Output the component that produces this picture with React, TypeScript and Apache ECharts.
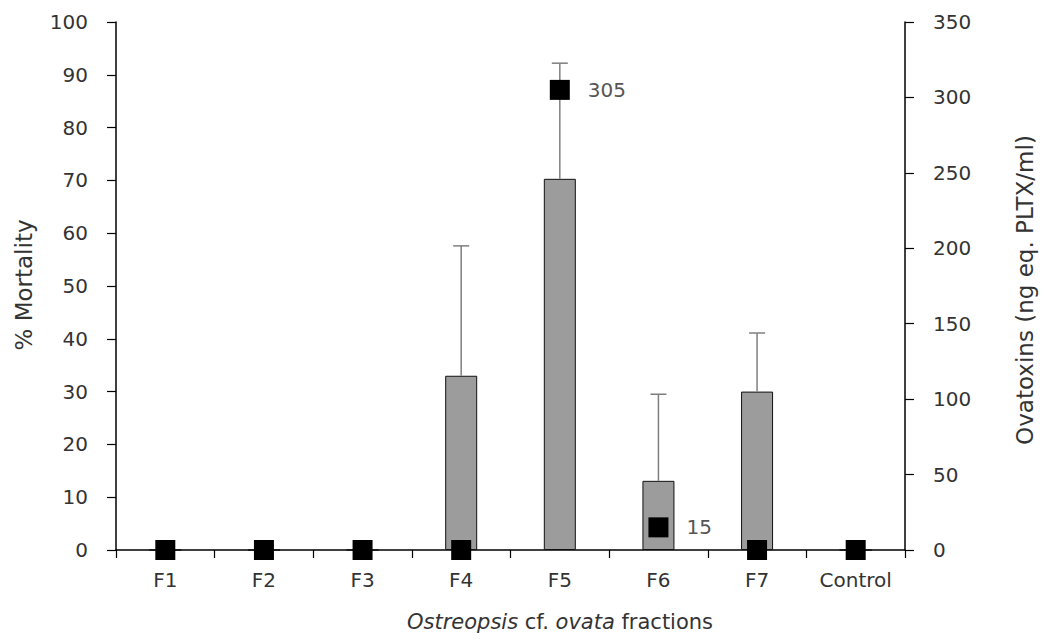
import React, { useEffect, useRef } from "react";
import * as echarts from "echarts";

const categories = ["F1", "F2", "F3", "F4", "F5", "F6", "F7", "Control"];
const mortality = [0, 0, 0, 33, 70.3, 13.1, 30, 0];
const mortalityErrTop = [null, null, null, 57.6, 92.2, 29.5, 41.1, null];
const ovatoxins = [0, 0, 0, 0, 305, 15, 0, 0];
const ovatoxinLabels = ["", "", "", "", "305", "15", "", ""];
const leftTicks = { min: 0, max: 100, interval: 10 };
const rightTicks = { min: 0, max: 350, interval: 50 };

const FONT = "'DejaVu Sans', 'Open Sans', sans-serif";
const FS = 20;
const TFS = 23;
const TXT = "#333333";

export default function App() {
  const ref = useRef<HTMLDivElement>(null);
  useEffect(() => {
    if (!ref.current) return;
    const chart = echarts.init(ref.current, null, { renderer: "svg" });
    const errData = categories
      .map((c, i) => [i, mortality[i], mortalityErrTop[i]])
      .filter((d) => d[2] !== null);
    chart.setOption({
      animation: false,
      backgroundColor: "#ffffff",
      grid: { left: 116, right: 143, top: 22, bottom: 92 },
      xAxis: {
        type: "category",
        data: categories,
        boundaryGap: true,
        axisLine: { lineStyle: { color: "#000", width: 1.5 } },
        axisTick: { show: true, length: 8, lineStyle: { color: "#000", width: 1.2 } },
        axisLabel: { color: TXT, fontFamily: FONT, fontSize: FS, margin: 20 },
      },
      yAxis: [
        {
          type: "value",
          min: leftTicks.min,
          max: leftTicks.max,
          interval: leftTicks.interval,
          splitLine: { show: false },
          axisLine: { show: true, lineStyle: { color: "#000", width: 1.5 } },
          axisTick: { show: true, length: 9, lineStyle: { color: "#000", width: 1.2 } },
          axisLabel: { color: TXT, fontFamily: FONT, fontSize: FS, margin: 28 },
        },
        {
          type: "value",
          position: "right",
          min: rightTicks.min,
          max: rightTicks.max,
          interval: rightTicks.interval,
          splitLine: { show: false },
          axisLine: { show: true, lineStyle: { color: "#000", width: 1.5 } },
          axisTick: { show: true, length: 9, lineStyle: { color: "#000", width: 1.2 } },
          axisLabel: { color: TXT, fontFamily: FONT, fontSize: FS, margin: 28 },
        },
      ],
      graphic: [
        {
          type: "text",
          x: 24,
          y: 285,
          rotation: Math.PI / 2,
          style: {
            text: "% Mortality",
            fill: TXT,
            fontFamily: FONT,
            fontSize: TFS,
            align: "center",
            verticalAlign: "middle",
          },
        },
        {
          type: "text",
          x: 1025,
          y: 290,
          rotation: Math.PI / 2,
          style: {
            text: "Ovatoxins (ng eq. PLTX/ml)",
            fill: TXT,
            fontFamily: FONT,
            fontSize: TFS,
            align: "center",
            verticalAlign: "middle",
          },
        },
        {
          type: "text",
          x: 560,
          y: 622,
          style: {
            text: "{i|Ostreopsis} {n|cf.} {i|ovata} {n|fractions}",
            fill: TXT,
            fontFamily: FONT,
            fontSize: 21,
            align: "center",
            verticalAlign: "middle",
            rich: {
              i: { fontStyle: "italic", fontFamily: FONT, fontSize: 21, fill: TXT },
              n: { fontFamily: FONT, fontSize: 21, fill: TXT },
            },
          },
        },
      ],
      series: [
        {
          type: "bar",
          yAxisIndex: 0,
          data: mortality,
          barWidth: 32,
          itemStyle: { color: "#9c9c9c", borderColor: "#111", borderWidth: 1 },
          z: 2,
        },
        {
          type: "custom",
          yAxisIndex: 0,
          data: errData,
          z: 3,
          renderItem: (params: any, api: any) => {
            const x = api.value(0);
            const base = api.coord([x, api.value(1)]);
            const top = api.coord([x, api.value(2)]);
            const style = { stroke: "#7f7f7f", lineWidth: 1.5 };
            return {
              type: "group",
              children: [
                { type: "line", shape: { x1: base[0], y1: base[1], x2: top[0], y2: top[1] }, style },
                { type: "line", shape: { x1: top[0] - 8, y1: top[1], x2: top[0] + 8, y2: top[1] }, style },
              ],
            };
          },
        },
        {
          type: "scatter",
          yAxisIndex: 1,
          symbol: "rect",
          symbolSize: 20,
          z: 5,
          itemStyle: { color: "#000", opacity: 1 },
          data: ovatoxins.map((v, i) => ({
            value: v,
            label: {
              show: ovatoxinLabels[i] !== "",
              formatter: ovatoxinLabels[i],
              position: "right",
              distance: 18,
              color: "#555",
              fontFamily: FONT,
              fontSize: FS,
            },
          })),
        },
      ],
    });
    return () => chart.dispose();
  }, []);
  return <div ref={ref} style={{ width: 1048, height: 642, position: "absolute", left: 0, top: 0 }} />;
}
